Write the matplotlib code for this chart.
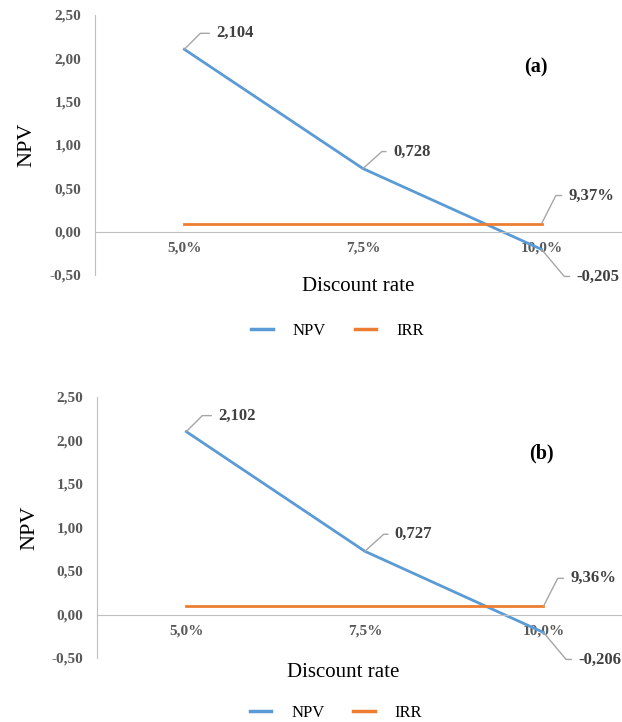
import matplotlib.pyplot as plt

# discount rate categories and results for the two scenarios
rates = ['5,0%', '7,5%', '10,0%']
npv_a = [2.104, 0.728, -0.205]
npv_b = [2.102, 0.727, -0.206]
irr_a = 9.37
irr_b = 9.36
yticks = [-0.5, 0.0, 0.5, 1.0, 1.5, 2.0, 2.5]

plt.rcParams['font.family'] = ['Liberation Serif', 'DejaVu Serif']

BLUE = '#5B9BD5'
ORANGE = '#ED7D31'
GRID = '#BFBFBF'
TICK = '#595959'
LABEL = '#404040'


def fmt(v, nd):
    return f'{v:.{nd}f}'.replace('.', ',')


def leader(ax, x, y, text, dx, dy, angle):
    ax.annotate(text, xy=(x, y), xytext=(dx, dy), textcoords='offset pixels',
                ha='left', va='center', fontsize=12, fontweight='bold', color=LABEL,
                arrowprops=dict(arrowstyle='-', color='#A6A6A6', lw=1,
                                connectionstyle=f'angle,angleA=0,angleB={angle},rad=0',
                                relpos=(0, 0.5), shrinkA=3, shrinkB=0))


def panel(rect, npv, irr, tag, tagpos, xlab_pos, ylab_x, leg_pos, xmax):
    ax = fig.add_axes(rect)
    x = range(len(rates))
    irr_line = [irr / 100] * len(rates)
    l1, = ax.plot(x, npv, color=BLUE, lw=2, solid_joinstyle='miter')
    l2, = ax.plot(x, irr_line, color=ORANGE, lw=2)

    ax.set_xlim(-0.5, xmax)
    ax.set_ylim(-0.5, 2.5)
    ax.set_xticks(list(x))
    ax.set_xticklabels(rates)
    ax.set_yticks(yticks)
    ax.set_yticklabels([fmt(v, 2) for v in yticks])
    for s in ['top', 'right']:
        ax.spines[s].set_visible(False)
    ax.spines['bottom'].set_position(('data', 0))
    ax.spines['bottom'].set_color(GRID)
    ax.spines['left'].set_color(GRID)
    ax.tick_params(axis='both', length=0, labelsize=11, labelcolor=TICK)
    ax.tick_params(axis='x', pad=7)
    ax.tick_params(axis='y', pad=10)
    for t in ax.get_xticklabels() + ax.get_yticklabels():
        t.set_fontweight('bold')

    ax.set_xlabel('Discount rate', fontsize=15)
    ax.xaxis.label.set_va('center')
    ax.xaxis.set_label_coords(xlab_pos[0], xlab_pos[1])
    ax.set_ylabel('NPV', fontsize=16)
    ax.yaxis.label.set_va('center')
    ax.yaxis.set_label_coords(ylab_x, 0.5)

    ax.text(tagpos[0], tagpos[1], tag, transform=ax.transAxes, ha='center',
            va='center', fontsize=14.5, fontweight='bold')

    leader(ax, 0, npv[0], fmt(npv[0], 3), 32, 16, 45)
    leader(ax, 1, npv[1], fmt(npv[1], 3), 30, 17, 42)
    leader(ax, 2, irr_line[2], fmt(irr, 2) + '%', 27, 28, 63)
    leader(ax, 2, npv[2], fmt(npv[2], 3), 35, -27, -50)

    ax.legend([l1, l2], ['NPV', 'IRR'], loc='center', ncol=2, frameon=False,
              bbox_to_anchor=leg_pos, bbox_transform=fig.transFigure,
              fontsize=12, handlelength=1.3, handletextpad=1.2,
              columnspacing=1.7)
    for h in ax.get_legend().legend_handles:
        h.set_linewidth(2.5)
    return ax


fig = plt.figure(figsize=(6.22, 7.22), dpi=100)

panel([95 / 622, 1 - 275 / 722, 527 / 622, 260 / 722], npv_a, irr_a, '(a)',
      (0.836, 0.80), (0.5, -0.046), -0.13, (0.5426, 0.5416), 2.45)
panel([97 / 622, 1 - 658 / 722, 525 / 622, 261 / 722], npv_b, irr_b, '(b)',
      (0.846, 0.785), (0.469, -0.054), -0.128, (0.540, 0.0125), 2.44)

fig.savefig('out.png', dpi=100)
